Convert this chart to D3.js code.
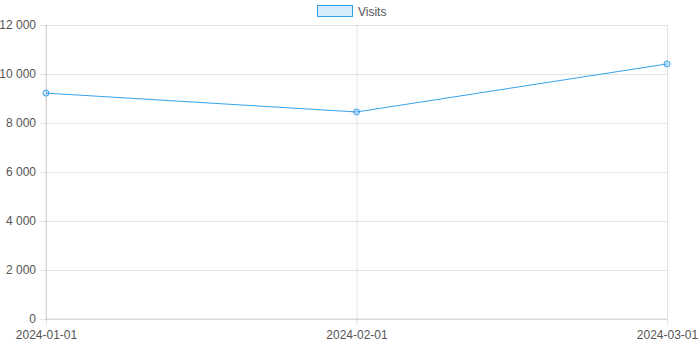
<!DOCTYPE html>
<html>
<head>
<meta charset="utf-8">
<script src="https://cdn.jsdelivr.net/npm/d3@7"></script>
<style>
  body { margin: 0; background: #fff; }
  svg { display: block; font-family: "Liberation Sans", Arial, Helvetica, sans-serif; }
</style>
</head>
<body>
<svg id="chart"></svg>
<script>
const dates = ["2024-01-01", "2024-02-01", "2024-03-01"];
const visits = [9220, 8450, 10410];
const yTicks = [0, 2000, 4000, 6000, 8000, 10000, 12000];
const seriesName = "Visits";

const width = 700, height = 355;
const margin = { top: 25, right: 33, bottom: 36, left: 46 };
const lineColor = "rgb(54,162,235)";
const fillColor = "rgba(54,162,235,0.2)";
const gridColor = "rgba(0,0,0,0.1)";
const textColor = "#555";

const svg = d3.select("#chart")
    .attr("width", width)
    .attr("height", height);

const x = d3.scalePoint()
    .domain(dates)
    .range([margin.left, width - margin.right]);

const y = d3.scaleLinear()
    .domain([0, 12000])
    .range([height - margin.bottom, margin.top]);

const fmt = d => d3.format(",")(d).replace(/,/g, " ");

// horizontal grid + y labels
svg.append("g")
    .attr("transform", `translate(${margin.left},0)`)
    .call(d3.axisLeft(y).tickValues(yTicks).tickFormat(fmt)
        .tickSize(-(width - margin.left - margin.right)).tickPadding(10))
    .call(g => {
        g.select(".domain").remove();
        g.selectAll(".tick line")
            .attr("x1", -6)
            .attr("stroke", gridColor);
        g.selectAll(".tick text")
            .attr("fill", textColor)
            .attr("font-size", 12)
            .attr("font-family", null);
    });

// vertical grid + x labels
svg.append("g")
    .attr("transform", `translate(0,${height - margin.bottom})`)
    .call(d3.axisBottom(x).tickSize(-(height - margin.top - margin.bottom)).tickPadding(11))
    .call(g => {
        g.select(".domain").remove();
        g.selectAll(".tick line")
            .attr("y1", 6)
            .attr("stroke", gridColor);
        g.selectAll(".tick text")
            .attr("fill", textColor)
            .attr("font-size", 12)
            .attr("font-family", null);
    });

// axis borders
svg.append("line")
    .attr("x1", margin.left).attr("x2", margin.left)
    .attr("y1", margin.top).attr("y2", height - margin.bottom)
    .attr("stroke", "rgba(0,0,0,0.13)");
svg.append("line")
    .attr("x1", margin.left).attr("x2", width - margin.right)
    .attr("y1", height - margin.bottom).attr("y2", height - margin.bottom)
    .attr("stroke", "rgba(0,0,0,0.13)");

const data = dates.map((d, i) => ({ date: d, value: visits[i] }));

svg.append("path")
    .datum(data)
    .attr("fill", "none")
    .attr("stroke", lineColor)
    .attr("stroke-width", 1)
    .attr("d", d3.line().x(d => x(d.date)).y(d => y(d.value)));

svg.selectAll(".pt")
    .data(data)
    .join("circle")
    .attr("class", "pt")
    .attr("cx", d => x(d.date))
    .attr("cy", d => y(d.value))
    .attr("r", 3)
    .attr("fill", fillColor)
    .attr("stroke", lineColor)
    .attr("stroke-width", 1);

// legend
const legend = svg.append("g");
legend.append("rect")
    .attr("x", 317.5).attr("y", 5.5)
    .attr("width", 35).attr("height", 11)
    .attr("fill", fillColor)
    .attr("stroke", lineColor);
legend.append("text")
    .attr("x", 358).attr("y", 15.5)
    .attr("fill", textColor)
    .attr("font-size", 12)
    .text(seriesName);
</script>
</body>
</html>
